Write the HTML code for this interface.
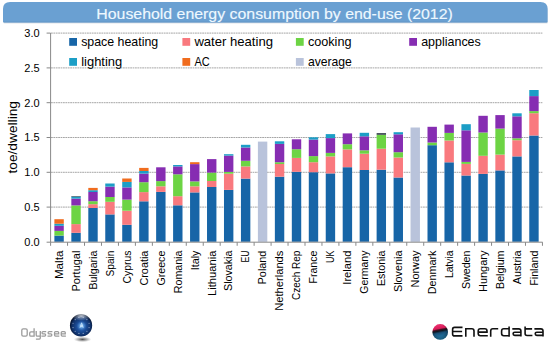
<!DOCTYPE html>
<html><head><meta charset="utf-8"><style>
html,body{margin:0;padding:0;background:#fff;}
body{width:550px;height:344px;overflow:hidden;}
svg{display:block;font-family:"Liberation Sans",sans-serif;}
</style></head><body>
<svg width="550" height="344" viewBox="0 0 550 344">
<defs>
<radialGradient id="glb" cx="0.52" cy="0.55" r="0.55">
<stop offset="0" stop-color="#3f7cc8"/><stop offset="0.4" stop-color="#1c4d98"/><stop offset="0.78" stop-color="#0f2e64"/><stop offset="1" stop-color="#030a1c"/>
</radialGradient>
<radialGradient id="cglow" cx="0.5" cy="0.5" r="0.5">
<stop offset="0" stop-color="#d8f0ff" stop-opacity="0.95"/><stop offset="0.4" stop-color="#7ab8f0" stop-opacity="0.6"/><stop offset="1" stop-color="#3a78c8" stop-opacity="0"/>
</radialGradient>
<radialGradient id="hl" cx="0.5" cy="0.3" r="0.6">
<stop offset="0" stop-color="#ffffff" stop-opacity="0.75"/><stop offset="0.5" stop-color="#e0e8f0" stop-opacity="0.35"/><stop offset="1" stop-color="#ffffff" stop-opacity="0"/>
</radialGradient>
<radialGradient id="bsh" cx="0.45" cy="0.4" r="0.6">
<stop offset="0.6" stop-color="#000" stop-opacity="0"/><stop offset="1" stop-color="#000" stop-opacity="0.35"/>
</radialGradient>
<linearGradient id="ball" x1="0.4" y1="0" x2="0.6" y2="1">
<stop offset="0" stop-color="#f03272"/><stop offset="0.28" stop-color="#d81c58"/><stop offset="0.36" stop-color="#401020"/><stop offset="0.44" stop-color="#0e1620"/><stop offset="0.56" stop-color="#185078"/><stop offset="1" stop-color="#2a8ec0"/>
</linearGradient>
<radialGradient id="shd" cx="0.5" cy="0.5" r="0.5">
<stop offset="0" stop-color="#222" stop-opacity="0.8"/><stop offset="0.6" stop-color="#555" stop-opacity="0.35"/><stop offset="1" stop-color="#999" stop-opacity="0"/>
</radialGradient>
</defs>
<!-- title bar -->
<path transform="translate(0.4,1)" d="M3,9 Q3,1.9 10.1,1.9 L540.5,1.9 Q547.6,1.9 547.6,9 L547.6,21.2 Q547.6,22.4 546.4,22.4 L4.2,22.4 Q3,22.4 3,21.2 Z" fill="#c4ccd6" opacity="0.55"/>
<path d="M3,9 Q3,1.9 10.1,1.9 L540.5,1.9 Q547.6,1.9 547.6,9 L547.6,21.2 Q547.6,22.4 546.4,22.4 L4.2,22.4 Q3,22.4 3,21.2 Z" fill="#6aa0d2"/>
<rect x="3.6" y="21.6" width="543.4" height="0.8" fill="#5f90c2" opacity="0.7"/>
<text x="96.3" y="18.9" font-size="15.2" fill="#eef8ff" stroke="#eef8ff" stroke-width="0.15" textLength="356.5" lengthAdjust="spacingAndGlyphs">Household energy consumption by end-use (2012)</text>
<line x1="51" x2="542.6" y1="33.1" y2="33.1" stroke="#9c9c9c" stroke-width="0.9" stroke-dasharray="1.8,0.6"/>
<line x1="51" x2="542.6" y1="67.9" y2="67.9" stroke="#9c9c9c" stroke-width="0.9" stroke-dasharray="1.8,0.6"/>
<line x1="51" x2="542.6" y1="102.7" y2="102.7" stroke="#9c9c9c" stroke-width="0.9" stroke-dasharray="1.8,0.6"/>
<line x1="51" x2="542.6" y1="137.5" y2="137.5" stroke="#9c9c9c" stroke-width="0.9" stroke-dasharray="1.8,0.6"/>
<line x1="51" x2="542.6" y1="172.3" y2="172.3" stroke="#9c9c9c" stroke-width="0.9" stroke-dasharray="1.8,0.6"/>
<line x1="51" x2="542.6" y1="207.1" y2="207.1" stroke="#9c9c9c" stroke-width="0.9" stroke-dasharray="1.8,0.6"/>
<rect x="54.38" y="235.60" width="9.4" height="6.20" fill="#1765a7"/>
<rect x="54.38" y="230.90" width="9.4" height="4.70" fill="#6dd444"/>
<rect x="54.38" y="225.80" width="9.4" height="5.10" fill="#862db2"/>
<rect x="54.38" y="223.70" width="9.4" height="2.10" fill="#1c9ec6"/>
<rect x="54.38" y="219.20" width="9.4" height="4.50" fill="#f06c1e"/>
<text transform="translate(62.88,250.6) rotate(-90)" text-anchor="end" font-size="10.7" textLength="28.5" lengthAdjust="spacingAndGlyphs">Malta</text>
<rect x="71.34" y="232.80" width="9.4" height="9.00" fill="#1765a7"/>
<rect x="71.34" y="224.10" width="9.4" height="8.70" fill="#f9797e"/>
<rect x="71.34" y="205.40" width="9.4" height="18.70" fill="#6dd444"/>
<rect x="71.34" y="198.60" width="9.4" height="6.80" fill="#862db2"/>
<rect x="71.34" y="196.60" width="9.4" height="2.00" fill="#1c9ec6"/>
<rect x="71.34" y="196.00" width="9.4" height="0.60" fill="#3a4650"/>
<text transform="translate(79.84,250.6) rotate(-90)" text-anchor="end" font-size="10.7" textLength="40.9" lengthAdjust="spacingAndGlyphs">Portugal</text>
<rect x="88.30" y="208.00" width="9.4" height="33.80" fill="#1765a7"/>
<rect x="88.30" y="204.20" width="9.4" height="3.80" fill="#f9797e"/>
<rect x="88.30" y="201.20" width="9.4" height="3.00" fill="#6dd444"/>
<rect x="88.30" y="192.00" width="9.4" height="9.20" fill="#862db2"/>
<rect x="88.30" y="190.20" width="9.4" height="1.80" fill="#1c9ec6"/>
<rect x="88.30" y="187.90" width="9.4" height="2.30" fill="#f06c1e"/>
<text transform="translate(96.80,250.6) rotate(-90)" text-anchor="end" font-size="10.7" textLength="39" lengthAdjust="spacingAndGlyphs">Bulgaria</text>
<rect x="105.26" y="214.40" width="9.4" height="27.40" fill="#1765a7"/>
<rect x="105.26" y="201.80" width="9.4" height="12.60" fill="#f9797e"/>
<rect x="105.26" y="197.00" width="9.4" height="4.80" fill="#6dd444"/>
<rect x="105.26" y="186.60" width="9.4" height="10.40" fill="#862db2"/>
<rect x="105.26" y="183.50" width="9.4" height="3.10" fill="#1c9ec6"/>
<text transform="translate(113.76,250.6) rotate(-90)" text-anchor="end" font-size="10.7" textLength="25.8" lengthAdjust="spacingAndGlyphs">Spain</text>
<rect x="122.22" y="224.80" width="9.4" height="17.00" fill="#1765a7"/>
<rect x="122.22" y="210.70" width="9.4" height="14.10" fill="#f9797e"/>
<rect x="122.22" y="199.60" width="9.4" height="11.10" fill="#6dd444"/>
<rect x="122.22" y="187.40" width="9.4" height="12.20" fill="#862db2"/>
<rect x="122.22" y="181.90" width="9.4" height="5.50" fill="#1c9ec6"/>
<rect x="122.22" y="178.50" width="9.4" height="3.40" fill="#f06c1e"/>
<text transform="translate(130.72,250.6) rotate(-90)" text-anchor="end" font-size="10.7" textLength="33" lengthAdjust="spacingAndGlyphs">Cyprus</text>
<rect x="139.18" y="201.30" width="9.4" height="40.50" fill="#1765a7"/>
<rect x="139.18" y="192.10" width="9.4" height="9.20" fill="#f9797e"/>
<rect x="139.18" y="182.20" width="9.4" height="9.90" fill="#6dd444"/>
<rect x="139.18" y="173.60" width="9.4" height="8.60" fill="#862db2"/>
<rect x="139.18" y="171.00" width="9.4" height="2.60" fill="#1c9ec6"/>
<rect x="139.18" y="167.90" width="9.4" height="3.10" fill="#f06c1e"/>
<text transform="translate(147.68,250.6) rotate(-90)" text-anchor="end" font-size="10.7" textLength="35" lengthAdjust="spacingAndGlyphs">Croatia</text>
<rect x="156.14" y="191.90" width="9.4" height="49.90" fill="#1765a7"/>
<rect x="156.14" y="186.30" width="9.4" height="5.60" fill="#f9797e"/>
<rect x="156.14" y="181.10" width="9.4" height="5.20" fill="#6dd444"/>
<rect x="156.14" y="167.30" width="9.4" height="13.80" fill="#862db2"/>
<text transform="translate(164.64,250.6) rotate(-90)" text-anchor="end" font-size="10.7" textLength="35" lengthAdjust="spacingAndGlyphs">Greece</text>
<rect x="173.10" y="205.30" width="9.4" height="36.50" fill="#1765a7"/>
<rect x="173.10" y="196.20" width="9.4" height="9.10" fill="#f9797e"/>
<rect x="173.10" y="174.30" width="9.4" height="21.90" fill="#6dd444"/>
<rect x="173.10" y="166.40" width="9.4" height="7.90" fill="#862db2"/>
<rect x="173.10" y="165.00" width="9.4" height="1.40" fill="#1c9ec6"/>
<text transform="translate(181.60,250.6) rotate(-90)" text-anchor="end" font-size="10.7" textLength="42.6" lengthAdjust="spacingAndGlyphs">Romania</text>
<rect x="190.06" y="192.40" width="9.4" height="49.40" fill="#1765a7"/>
<rect x="190.06" y="186.30" width="9.4" height="6.10" fill="#f9797e"/>
<rect x="190.06" y="181.40" width="9.4" height="4.90" fill="#6dd444"/>
<rect x="190.06" y="164.10" width="9.4" height="17.30" fill="#862db2"/>
<rect x="190.06" y="162.20" width="9.4" height="1.90" fill="#f06c1e"/>
<text transform="translate(198.56,250.6) rotate(-90)" text-anchor="end" font-size="10.7" textLength="19.7" lengthAdjust="spacingAndGlyphs">Italy</text>
<rect x="207.02" y="187.00" width="9.4" height="54.80" fill="#1765a7"/>
<rect x="207.02" y="181.00" width="9.4" height="6.00" fill="#f9797e"/>
<rect x="207.02" y="172.60" width="9.4" height="8.40" fill="#6dd444"/>
<rect x="207.02" y="159.10" width="9.4" height="13.50" fill="#862db2"/>
<text transform="translate(215.52,250.6) rotate(-90)" text-anchor="end" font-size="10.7" textLength="45.4" lengthAdjust="spacingAndGlyphs">Lithuania</text>
<rect x="223.98" y="189.90" width="9.4" height="51.90" fill="#1765a7"/>
<rect x="223.98" y="173.70" width="9.4" height="16.20" fill="#f9797e"/>
<rect x="223.98" y="171.90" width="9.4" height="1.80" fill="#6dd444"/>
<rect x="223.98" y="155.60" width="9.4" height="16.30" fill="#862db2"/>
<rect x="223.98" y="154.20" width="9.4" height="1.40" fill="#1c9ec6"/>
<text transform="translate(232.48,250.6) rotate(-90)" text-anchor="end" font-size="10.7" textLength="40.4" lengthAdjust="spacingAndGlyphs">Slovakia</text>
<rect x="240.94" y="178.60" width="9.4" height="63.20" fill="#1765a7"/>
<rect x="240.94" y="166.40" width="9.4" height="12.20" fill="#f9797e"/>
<rect x="240.94" y="160.80" width="9.4" height="5.60" fill="#6dd444"/>
<rect x="240.94" y="147.50" width="9.4" height="13.30" fill="#862db2"/>
<rect x="240.94" y="144.80" width="9.4" height="2.70" fill="#1c9ec6"/>
<text transform="translate(249.44,250.6) rotate(-90)" text-anchor="end" font-size="10.7" textLength="12" lengthAdjust="spacingAndGlyphs">EU</text>
<rect x="257.90" y="141.60" width="9.4" height="100.20" fill="#b9c3db"/>
<text transform="translate(266.40,250.6) rotate(-90)" text-anchor="end" font-size="10.7" textLength="33.8" lengthAdjust="spacingAndGlyphs">Poland</text>
<rect x="274.86" y="176.70" width="9.4" height="65.10" fill="#1765a7"/>
<rect x="274.86" y="164.00" width="9.4" height="12.70" fill="#f9797e"/>
<rect x="274.86" y="162.20" width="9.4" height="1.80" fill="#6dd444"/>
<rect x="274.86" y="143.90" width="9.4" height="18.30" fill="#862db2"/>
<rect x="274.86" y="141.30" width="9.4" height="2.60" fill="#1c9ec6"/>
<text transform="translate(283.36,250.6) rotate(-90)" text-anchor="end" font-size="10.7" textLength="60.2" lengthAdjust="spacingAndGlyphs">Netherlands</text>
<rect x="291.82" y="171.80" width="9.4" height="70.00" fill="#1765a7"/>
<rect x="291.82" y="157.90" width="9.4" height="13.90" fill="#f9797e"/>
<rect x="291.82" y="149.20" width="9.4" height="8.70" fill="#6dd444"/>
<rect x="291.82" y="139.30" width="9.4" height="9.90" fill="#862db2"/>
<text transform="translate(300.32,250.6) rotate(-90)" text-anchor="end" font-size="10.7" textLength="49.5" lengthAdjust="spacingAndGlyphs">Czech Rep</text>
<rect x="308.78" y="172.20" width="9.4" height="69.60" fill="#1765a7"/>
<rect x="308.78" y="162.20" width="9.4" height="10.00" fill="#f9797e"/>
<rect x="308.78" y="156.10" width="9.4" height="6.10" fill="#6dd444"/>
<rect x="308.78" y="139.60" width="9.4" height="16.50" fill="#862db2"/>
<rect x="308.78" y="137.30" width="9.4" height="2.30" fill="#1c9ec6"/>
<text transform="translate(317.28,250.6) rotate(-90)" text-anchor="end" font-size="10.7" textLength="32.9" lengthAdjust="spacingAndGlyphs">France</text>
<rect x="325.74" y="173.40" width="9.4" height="68.40" fill="#1765a7"/>
<rect x="325.74" y="156.40" width="9.4" height="17.00" fill="#f9797e"/>
<rect x="325.74" y="152.90" width="9.4" height="3.50" fill="#6dd444"/>
<rect x="325.74" y="138.10" width="9.4" height="14.80" fill="#862db2"/>
<rect x="325.74" y="134.10" width="9.4" height="4.00" fill="#1c9ec6"/>
<text transform="translate(334.24,250.6) rotate(-90)" text-anchor="end" font-size="10.7" textLength="12.3" lengthAdjust="spacingAndGlyphs">UK</text>
<rect x="342.70" y="167.20" width="9.4" height="74.60" fill="#1765a7"/>
<rect x="342.70" y="149.40" width="9.4" height="17.80" fill="#f9797e"/>
<rect x="342.70" y="144.20" width="9.4" height="5.20" fill="#6dd444"/>
<rect x="342.70" y="133.40" width="9.4" height="10.80" fill="#862db2"/>
<text transform="translate(351.20,250.6) rotate(-90)" text-anchor="end" font-size="10.7" textLength="34.1" lengthAdjust="spacingAndGlyphs">Ireland</text>
<rect x="359.66" y="170.00" width="9.4" height="71.80" fill="#1765a7"/>
<rect x="359.66" y="153.70" width="9.4" height="16.30" fill="#f9797e"/>
<rect x="359.66" y="150.30" width="9.4" height="3.40" fill="#6dd444"/>
<rect x="359.66" y="136.30" width="9.4" height="14.00" fill="#862db2"/>
<rect x="359.66" y="132.80" width="9.4" height="3.50" fill="#1c9ec6"/>
<text transform="translate(368.16,250.6) rotate(-90)" text-anchor="end" font-size="10.7" textLength="43.1" lengthAdjust="spacingAndGlyphs">Germany</text>
<rect x="376.62" y="169.70" width="9.4" height="72.10" fill="#1765a7"/>
<rect x="376.62" y="148.70" width="9.4" height="21.00" fill="#f9797e"/>
<rect x="376.62" y="134.80" width="9.4" height="13.90" fill="#6dd444"/>
<rect x="376.62" y="133.10" width="9.4" height="1.70" fill="#3a4650"/>
<text transform="translate(385.12,250.6) rotate(-90)" text-anchor="end" font-size="10.7" textLength="35.5" lengthAdjust="spacingAndGlyphs">Estonia</text>
<rect x="393.58" y="177.50" width="9.4" height="64.30" fill="#1765a7"/>
<rect x="393.58" y="157.50" width="9.4" height="20.00" fill="#f9797e"/>
<rect x="393.58" y="152.20" width="9.4" height="5.30" fill="#6dd444"/>
<rect x="393.58" y="134.30" width="9.4" height="17.90" fill="#862db2"/>
<rect x="393.58" y="132.20" width="9.4" height="2.10" fill="#1c9ec6"/>
<text transform="translate(402.08,250.6) rotate(-90)" text-anchor="end" font-size="10.7" textLength="41.4" lengthAdjust="spacingAndGlyphs">Slovenia</text>
<rect x="410.54" y="127.50" width="9.4" height="114.30" fill="#b9c3db"/>
<text transform="translate(419.04,250.6) rotate(-90)" text-anchor="end" font-size="10.7" textLength="36.8" lengthAdjust="spacingAndGlyphs">Norway</text>
<rect x="427.50" y="145.20" width="9.4" height="96.60" fill="#1765a7"/>
<rect x="427.50" y="142.50" width="9.4" height="2.70" fill="#6dd444"/>
<rect x="427.50" y="126.80" width="9.4" height="15.70" fill="#862db2"/>
<text transform="translate(436.00,250.6) rotate(-90)" text-anchor="end" font-size="10.7" textLength="43.6" lengthAdjust="spacingAndGlyphs">Denmark</text>
<rect x="444.46" y="162.30" width="9.4" height="79.50" fill="#1765a7"/>
<rect x="444.46" y="140.50" width="9.4" height="21.80" fill="#f9797e"/>
<rect x="444.46" y="132.90" width="9.4" height="7.60" fill="#6dd444"/>
<rect x="444.46" y="124.60" width="9.4" height="8.30" fill="#862db2"/>
<text transform="translate(452.96,250.6) rotate(-90)" text-anchor="end" font-size="10.7" textLength="27.5" lengthAdjust="spacingAndGlyphs">Latvia</text>
<rect x="461.42" y="175.50" width="9.4" height="66.30" fill="#1765a7"/>
<rect x="461.42" y="163.90" width="9.4" height="11.60" fill="#f9797e"/>
<rect x="461.42" y="161.90" width="9.4" height="2.00" fill="#6dd444"/>
<rect x="461.42" y="130.30" width="9.4" height="31.60" fill="#862db2"/>
<rect x="461.42" y="124.20" width="9.4" height="6.10" fill="#1c9ec6"/>
<text transform="translate(469.92,250.6) rotate(-90)" text-anchor="end" font-size="10.7" textLength="38.3" lengthAdjust="spacingAndGlyphs">Sweden</text>
<rect x="478.38" y="173.90" width="9.4" height="67.90" fill="#1765a7"/>
<rect x="478.38" y="155.80" width="9.4" height="18.10" fill="#f9797e"/>
<rect x="478.38" y="132.50" width="9.4" height="23.30" fill="#6dd444"/>
<rect x="478.38" y="115.80" width="9.4" height="16.70" fill="#862db2"/>
<text transform="translate(486.88,250.6) rotate(-90)" text-anchor="end" font-size="10.7" textLength="41.4" lengthAdjust="spacingAndGlyphs">Hungary</text>
<rect x="495.34" y="170.40" width="9.4" height="71.40" fill="#1765a7"/>
<rect x="495.34" y="154.60" width="9.4" height="15.80" fill="#f9797e"/>
<rect x="495.34" y="128.60" width="9.4" height="26.00" fill="#6dd444"/>
<rect x="495.34" y="115.10" width="9.4" height="13.50" fill="#862db2"/>
<text transform="translate(503.84,250.6) rotate(-90)" text-anchor="end" font-size="10.7" textLength="38.3" lengthAdjust="spacingAndGlyphs">Belgium</text>
<rect x="512.30" y="156.40" width="9.4" height="85.40" fill="#1765a7"/>
<rect x="512.30" y="140.20" width="9.4" height="16.20" fill="#f9797e"/>
<rect x="512.30" y="138.30" width="9.4" height="1.90" fill="#6dd444"/>
<rect x="512.30" y="116.30" width="9.4" height="22.00" fill="#862db2"/>
<rect x="512.30" y="113.30" width="9.4" height="3.00" fill="#1c9ec6"/>
<text transform="translate(520.80,250.6) rotate(-90)" text-anchor="end" font-size="10.7" textLength="33.7" lengthAdjust="spacingAndGlyphs">Austria</text>
<rect x="529.26" y="135.50" width="9.4" height="106.30" fill="#1765a7"/>
<rect x="529.26" y="113.20" width="9.4" height="22.30" fill="#f9797e"/>
<rect x="529.26" y="111.10" width="9.4" height="2.10" fill="#6dd444"/>
<rect x="529.26" y="96.10" width="9.4" height="15.00" fill="#862db2"/>
<rect x="529.26" y="90.00" width="9.4" height="6.10" fill="#1c9ec6"/>
<text transform="translate(537.76,250.6) rotate(-90)" text-anchor="end" font-size="10.7" textLength="35.2" lengthAdjust="spacingAndGlyphs">Finland</text>
<line x1="50.6" x2="50.6" y1="33" y2="242.4" stroke="#888" stroke-width="1"/>
<line x1="50.6" x2="542.6" y1="242.2" y2="242.2" stroke="#888" stroke-width="1"/>
<line x1="46.6" x2="50.6" y1="33.1" y2="33.1" stroke="#888" stroke-width="1"/>
<line x1="46.6" x2="50.6" y1="67.9" y2="67.9" stroke="#888" stroke-width="1"/>
<line x1="46.6" x2="50.6" y1="102.7" y2="102.7" stroke="#888" stroke-width="1"/>
<line x1="46.6" x2="50.6" y1="137.5" y2="137.5" stroke="#888" stroke-width="1"/>
<line x1="46.6" x2="50.6" y1="172.3" y2="172.3" stroke="#888" stroke-width="1"/>
<line x1="46.6" x2="50.6" y1="207.1" y2="207.1" stroke="#888" stroke-width="1"/>
<line x1="46.6" x2="50.6" y1="242.2" y2="242.2" stroke="#888" stroke-width="1"/>
<line x1="50.60" x2="50.60" y1="242.2" y2="245.8" stroke="#888" stroke-width="1"/>
<line x1="67.56" x2="67.56" y1="242.2" y2="245.8" stroke="#888" stroke-width="1"/>
<line x1="84.52" x2="84.52" y1="242.2" y2="245.8" stroke="#888" stroke-width="1"/>
<line x1="101.48" x2="101.48" y1="242.2" y2="245.8" stroke="#888" stroke-width="1"/>
<line x1="118.44" x2="118.44" y1="242.2" y2="245.8" stroke="#888" stroke-width="1"/>
<line x1="135.40" x2="135.40" y1="242.2" y2="245.8" stroke="#888" stroke-width="1"/>
<line x1="152.36" x2="152.36" y1="242.2" y2="245.8" stroke="#888" stroke-width="1"/>
<line x1="169.32" x2="169.32" y1="242.2" y2="245.8" stroke="#888" stroke-width="1"/>
<line x1="186.28" x2="186.28" y1="242.2" y2="245.8" stroke="#888" stroke-width="1"/>
<line x1="203.24" x2="203.24" y1="242.2" y2="245.8" stroke="#888" stroke-width="1"/>
<line x1="220.20" x2="220.20" y1="242.2" y2="245.8" stroke="#888" stroke-width="1"/>
<line x1="237.16" x2="237.16" y1="242.2" y2="245.8" stroke="#888" stroke-width="1"/>
<line x1="254.12" x2="254.12" y1="242.2" y2="245.8" stroke="#888" stroke-width="1"/>
<line x1="271.08" x2="271.08" y1="242.2" y2="245.8" stroke="#888" stroke-width="1"/>
<line x1="288.04" x2="288.04" y1="242.2" y2="245.8" stroke="#888" stroke-width="1"/>
<line x1="305.00" x2="305.00" y1="242.2" y2="245.8" stroke="#888" stroke-width="1"/>
<line x1="321.96" x2="321.96" y1="242.2" y2="245.8" stroke="#888" stroke-width="1"/>
<line x1="338.92" x2="338.92" y1="242.2" y2="245.8" stroke="#888" stroke-width="1"/>
<line x1="355.88" x2="355.88" y1="242.2" y2="245.8" stroke="#888" stroke-width="1"/>
<line x1="372.84" x2="372.84" y1="242.2" y2="245.8" stroke="#888" stroke-width="1"/>
<line x1="389.80" x2="389.80" y1="242.2" y2="245.8" stroke="#888" stroke-width="1"/>
<line x1="406.76" x2="406.76" y1="242.2" y2="245.8" stroke="#888" stroke-width="1"/>
<line x1="423.72" x2="423.72" y1="242.2" y2="245.8" stroke="#888" stroke-width="1"/>
<line x1="440.68" x2="440.68" y1="242.2" y2="245.8" stroke="#888" stroke-width="1"/>
<line x1="457.64" x2="457.64" y1="242.2" y2="245.8" stroke="#888" stroke-width="1"/>
<line x1="474.60" x2="474.60" y1="242.2" y2="245.8" stroke="#888" stroke-width="1"/>
<line x1="491.56" x2="491.56" y1="242.2" y2="245.8" stroke="#888" stroke-width="1"/>
<line x1="508.52" x2="508.52" y1="242.2" y2="245.8" stroke="#888" stroke-width="1"/>
<line x1="525.48" x2="525.48" y1="242.2" y2="245.8" stroke="#888" stroke-width="1"/>
<line x1="542.44" x2="542.44" y1="242.2" y2="245.8" stroke="#888" stroke-width="1"/>
<text x="39.6" y="37.00" text-anchor="end" font-size="11" textLength="15.3" lengthAdjust="spacingAndGlyphs">3.0</text>
<text x="39.6" y="71.80" text-anchor="end" font-size="11" textLength="15.3" lengthAdjust="spacingAndGlyphs">2.5</text>
<text x="39.6" y="106.60" text-anchor="end" font-size="11" textLength="15.3" lengthAdjust="spacingAndGlyphs">2.0</text>
<text x="39.6" y="141.40" text-anchor="end" font-size="11" textLength="15.3" lengthAdjust="spacingAndGlyphs">1.5</text>
<text x="39.6" y="176.20" text-anchor="end" font-size="11" textLength="15.3" lengthAdjust="spacingAndGlyphs">1.0</text>
<text x="39.6" y="211.00" text-anchor="end" font-size="11" textLength="15.3" lengthAdjust="spacingAndGlyphs">0.5</text>
<text x="39.6" y="246.10" text-anchor="end" font-size="11" textLength="15.3" lengthAdjust="spacingAndGlyphs">0.0</text>
<text transform="translate(16.9,137.3) rotate(-90)" text-anchor="middle" font-size="12.6" textLength="72.5" lengthAdjust="spacingAndGlyphs">toe/dwelling</text>
<rect x="69.2" y="38.0" width="7.8" height="7.8" fill="#1765a7"/>
<text x="81.2" y="45.80" font-size="13" textLength="77" lengthAdjust="spacingAndGlyphs">space heating</text>
<rect x="182.4" y="38.0" width="7.8" height="7.8" fill="#f9797e"/>
<text x="194.4" y="45.80" font-size="13" textLength="78.6" lengthAdjust="spacingAndGlyphs">water heating</text>
<rect x="295.9" y="38.0" width="7.8" height="7.8" fill="#6dd444"/>
<text x="307.9" y="45.80" font-size="13" textLength="43.6" lengthAdjust="spacingAndGlyphs">cooking</text>
<rect x="409.2" y="38.0" width="7.8" height="7.8" fill="#862db2"/>
<text x="421.2" y="45.80" font-size="13" textLength="59.6" lengthAdjust="spacingAndGlyphs">appliances</text>
<rect x="69.2" y="58.0" width="7.8" height="7.8" fill="#1c9ec6"/>
<text x="81.2" y="65.80" font-size="13" textLength="41" lengthAdjust="spacingAndGlyphs">lighting</text>
<rect x="182.4" y="58.0" width="7.8" height="7.8" fill="#f06c1e"/>
<text x="194.4" y="65.80" font-size="13" textLength="15.3" lengthAdjust="spacingAndGlyphs">AC</text>
<rect x="295.9" y="58.0" width="7.8" height="7.8" fill="#b9c3db"/>
<text x="307.9" y="65.80" font-size="13" textLength="44" lengthAdjust="spacingAndGlyphs">average</text>
<!-- Odyssee logo -->
<g fill="none" stroke="#9c9c9c" stroke-width="1.3"><rect x="21.8" y="328.9" width="5.4" height="7.2" rx="1.4" fill="none"/><path d="M34.1,328.2 V336.8 M34.1,331.8 H31 Q29.7,331.8 29.7,333 V334.9 Q29.7,336.1 31,336.1 H34.1"/><path d="M36.2,331.1 V334.9 Q36.2,336.1 37.4,336.1 H40.3 M40.3,331.1 V338.1 Q40.3,339.1 39.3,339.1 H35.9"/><path d="M46.20,331.6 H43.05 Q42.05,331.6 42.05,332.6 V332.90 Q42.05,333.9 43.05,333.9 H44.65 Q45.65,333.9 45.65,334.9 V335.10 Q45.65,336.1 44.65,336.1 H41.40"/><path d="M52.40,331.6 H49.15 Q48.15,331.6 48.15,332.6 V332.90 Q48.15,333.9 49.15,333.9 H50.85 Q51.85,333.9 51.85,334.9 V335.10 Q51.85,336.1 50.85,336.1 H47.50"/><path d="M54.55,333.8 H58.65 V332.6 Q58.65,331.6 57.65,331.6 H55.55 Q54.55,331.6 54.55,332.6 V335.10 Q54.55,336.1 55.55,336.1 H59.30"/><path d="M61.25,333.8 H65.25 V332.6 Q65.25,331.6 64.25,331.6 H62.25 Q61.25,331.6 61.25,332.6 V335.10 Q61.25,336.1 62.25,336.1 H65.90"/></g>
<ellipse cx="82.5" cy="339.4" rx="9" ry="2.8" fill="url(#shd)"/>
<circle cx="81.05" cy="325.4" r="11.1" fill="url(#glb)"/>
<ellipse cx="81.3" cy="317.6" rx="8.2" ry="3.9" fill="url(#hl)"/>
<circle cx="81.6" cy="325.8" r="5" fill="url(#cglow)"/>
<circle cx="89.07" cy="327.55" r="0.6" fill="#d8e4f4" opacity="0.65"/>
<circle cx="86.92" cy="331.27" r="0.6" fill="#d8e4f4" opacity="0.65"/>
<circle cx="83.20" cy="333.42" r="0.6" fill="#d8e4f4" opacity="0.65"/>
<circle cx="78.90" cy="333.42" r="0.6" fill="#d8e4f4" opacity="0.65"/>
<circle cx="75.18" cy="331.27" r="0.6" fill="#d8e4f4" opacity="0.65"/>
<circle cx="73.03" cy="327.55" r="0.6" fill="#d8e4f4" opacity="0.65"/>
<circle cx="73.03" cy="323.25" r="0.6" fill="#d8e4f4" opacity="0.65"/>
<circle cx="75.18" cy="319.53" r="0.6" fill="#d8e4f4" opacity="0.65"/>
<circle cx="78.90" cy="317.38" r="0.6" fill="#d8e4f4" opacity="0.65"/>
<circle cx="83.20" cy="317.38" r="0.6" fill="#d8e4f4" opacity="0.65"/>
<circle cx="86.92" cy="319.53" r="0.6" fill="#d8e4f4" opacity="0.65"/>
<circle cx="89.07" cy="323.25" r="0.6" fill="#d8e4f4" opacity="0.65"/>
<path d="M80,327.8 L81.6,322.8 L83.2,327.8 M80.6,326.3 H82.6" fill="none" stroke="#cfeaff" stroke-width="0.8" opacity="0.9"/>
<!-- Enerdata logo -->
<circle cx="440.2" cy="331.9" r="7.8" fill="url(#ball)"/>
<circle cx="440.2" cy="331.9" r="7.8" fill="url(#bsh)"/>
<g fill="none" stroke="#111" stroke-width="1.6"><path d="M462.5,327.4 H454.6 Q452.6,327.4 452.6,329.4 V333.9 Q452.6,335.9 454.6,335.9 H462.5 M452.6,331.5 H462.1"/><path d="M465.8,336.7 V328.8 H471.8 Q474,328.8 474,331 V336.7"/><path d="M478.2,332.1 H487 V331 Q487,328.8 484.8,328.8 H480.4 Q478.2,328.8 478.2,331 V333.5 Q478.2,335.7 480.4,335.7 H487.8"/><path d="M490.7,336.7 V331 Q490.7,328.8 492.9,328.8 H498.2"/><path d="M509.1,326.4 V336.7 M509.1,328.8 H503.8 Q501.6,328.8 501.6,331 V333.5 Q501.6,335.7 503.8,335.7 H509.1"/><path d="M512.30,328.9 H518.70 Q520.90,328.9 520.90,331.1 V336.6 M520.90,332.3 H514.70 Q513.10,332.3 513.10,333.85 Q513.10,335.4 514.70,335.4 H520.90"/><path d="M525.1,326.4 V333.5 Q525.1,335.5 527.1,335.5 H532.4 M524.3,328.9 H532.1"/><path d="M534.40,328.9 H540.80 Q543.00,328.9 543.00,331.1 V336.6 M543.00,332.3 H536.80 Q535.20,332.3 535.20,333.85 Q535.20,335.4 536.80,335.4 H543.00"/></g>
</svg>
</body></html>
